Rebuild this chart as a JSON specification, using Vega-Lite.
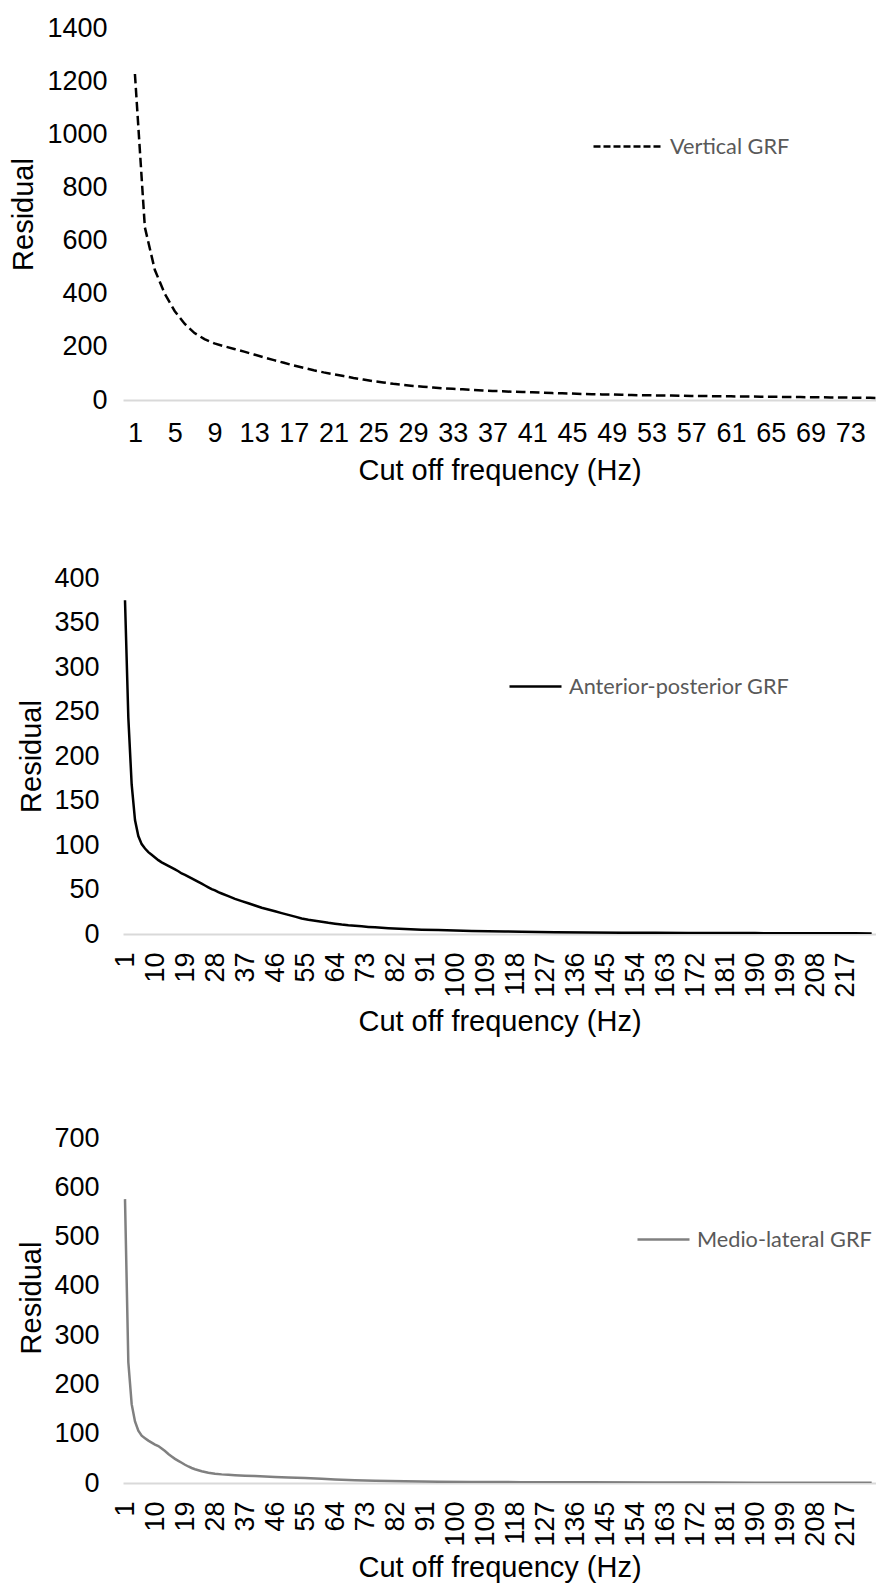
{
  "$schema": "https://vega.github.io/schema/vega-lite/v6.json",
  "background": "white",
  "padding": {"left": 9, "top": 14, "right": 0, "bottom": 0},
  "bounds": "flush",
  "spacing": 178,
  "config": {
    "font": "Liberation Sans",
    "view": {"stroke": null},
    "axis": {
      "labelFont": "Liberation Sans",
      "labelFontSize": 27,
      "labelColor": "#000000",
      "titleFont": "Liberation Sans",
      "titleFontSize": 29,
      "titleFontWeight": "normal",
      "titleColor": "#000000",
      "grid": false,
      "ticks": false,
      "labelOverlap": false,
      "labelFlush": false,
      "labelBound": false
    },
    "axisX": {"domainColor": "#d9d9d9", "domainWidth": 2},
    "axisY": {"domain": false, "format": "d"},
    "legend": {
      "orient": "none",
      "padding": 0,
      "title": null,
      "symbolType": "stroke",
      "labelFont": "Lato",
      "labelFontSize": 21.7,
      "labelColor": "#595959",
      "labelLimit": 0
    }
  },
  "resolve": {"scale": {"color": "independent"}, "legend": {"color": "independent"}},
  "datasets": {
    "vertical": [
      {"hz": 1, "residual": 1227}, {"hz": 2, "residual": 650}, {"hz": 3, "residual": 490}, {"hz": 4, "residual": 400},
      {"hz": 5, "residual": 335}, {"hz": 6, "residual": 287}, {"hz": 7, "residual": 252}, {"hz": 8, "residual": 229},
      {"hz": 9, "residual": 213}, {"hz": 10, "residual": 202}, {"hz": 11, "residual": 192}, {"hz": 12, "residual": 182},
      {"hz": 13, "residual": 171}, {"hz": 14, "residual": 160}, {"hz": 15, "residual": 150}, {"hz": 16, "residual": 140},
      {"hz": 17, "residual": 130}, {"hz": 18, "residual": 121}, {"hz": 19, "residual": 112}, {"hz": 20, "residual": 104},
      {"hz": 21, "residual": 97}, {"hz": 22, "residual": 90}, {"hz": 23, "residual": 83}, {"hz": 24, "residual": 77},
      {"hz": 25, "residual": 71}, {"hz": 26, "residual": 66}, {"hz": 27, "residual": 61}, {"hz": 28, "residual": 57},
      {"hz": 29, "residual": 53}, {"hz": 30, "residual": 50}, {"hz": 31, "residual": 47}, {"hz": 32, "residual": 44},
      {"hz": 33, "residual": 42}, {"hz": 34, "residual": 40}, {"hz": 35, "residual": 38}, {"hz": 36, "residual": 36},
      {"hz": 37, "residual": 34}, {"hz": 38, "residual": 33}, {"hz": 39, "residual": 31}, {"hz": 40, "residual": 30},
      {"hz": 41, "residual": 29}, {"hz": 42, "residual": 27.5}, {"hz": 43, "residual": 26}, {"hz": 44, "residual": 25},
      {"hz": 45, "residual": 24}, {"hz": 46, "residual": 23}, {"hz": 47, "residual": 22}, {"hz": 48, "residual": 21},
      {"hz": 49, "residual": 20.5}, {"hz": 50, "residual": 19.5}, {"hz": 51, "residual": 18.5}, {"hz": 52, "residual": 18},
      {"hz": 53, "residual": 17.5}, {"hz": 54, "residual": 17}, {"hz": 55, "residual": 16.5}, {"hz": 56, "residual": 16},
      {"hz": 57, "residual": 15.5}, {"hz": 58, "residual": 15}, {"hz": 59, "residual": 14.5}, {"hz": 60, "residual": 14},
      {"hz": 61, "residual": 13.8}, {"hz": 62, "residual": 13.4}, {"hz": 63, "residual": 13}, {"hz": 64, "residual": 12.6},
      {"hz": 65, "residual": 12.2}, {"hz": 66, "residual": 11.8}, {"hz": 67, "residual": 11.4}, {"hz": 68, "residual": 11},
      {"hz": 69, "residual": 10.6}, {"hz": 70, "residual": 10.2}, {"hz": 71, "residual": 9.8}, {"hz": 72, "residual": 9.4},
      {"hz": 73, "residual": 9}, {"hz": 74, "residual": 8.5}, {"hz": 75, "residual": 8}, {"hz": 76, "residual": 7.5}
    ],
    "anteriorPosterior": [
      {"hz": 1, "residual": 375}, {"hz": 2, "residual": 243}, {"hz": 3, "residual": 168}, {"hz": 4, "residual": 128},
      {"hz": 5, "residual": 110}, {"hz": 6, "residual": 101}, {"hz": 7, "residual": 96}, {"hz": 8, "residual": 92},
      {"hz": 9, "residual": 89}, {"hz": 10, "residual": 86}, {"hz": 11, "residual": 83}, {"hz": 12, "residual": 80.5},
      {"hz": 13, "residual": 78.5}, {"hz": 14, "residual": 76.5}, {"hz": 15, "residual": 74.5}, {"hz": 16, "residual": 72.5},
      {"hz": 17, "residual": 70.5}, {"hz": 18, "residual": 68}, {"hz": 19, "residual": 66.5}, {"hz": 20, "residual": 64.5},
      {"hz": 21, "residual": 62.5}, {"hz": 22, "residual": 60.5}, {"hz": 23, "residual": 58.5}, {"hz": 24, "residual": 56.5},
      {"hz": 25, "residual": 54.5}, {"hz": 26, "residual": 52.5}, {"hz": 27, "residual": 50.5}, {"hz": 28, "residual": 49},
      {"hz": 29, "residual": 47}, {"hz": 30, "residual": 45.5}, {"hz": 32, "residual": 42.5}, {"hz": 34, "residual": 39.5},
      {"hz": 36, "residual": 37}, {"hz": 38, "residual": 34.5}, {"hz": 40, "residual": 32}, {"hz": 42, "residual": 29.5},
      {"hz": 44, "residual": 27.5}, {"hz": 46, "residual": 25.5}, {"hz": 48, "residual": 23.5}, {"hz": 50, "residual": 21.5},
      {"hz": 52, "residual": 19.5}, {"hz": 54, "residual": 17.5}, {"hz": 56, "residual": 16}, {"hz": 58, "residual": 15},
      {"hz": 60, "residual": 13.8}, {"hz": 62, "residual": 12.6}, {"hz": 64, "residual": 11.6}, {"hz": 66, "residual": 10.6},
      {"hz": 68, "residual": 9.8}, {"hz": 70, "residual": 9.2}, {"hz": 72, "residual": 8.6}, {"hz": 74, "residual": 8},
      {"hz": 76, "residual": 7.5}, {"hz": 80, "residual": 6.5}, {"hz": 85, "residual": 5.6}, {"hz": 90, "residual": 4.9},
      {"hz": 95, "residual": 4.4}, {"hz": 100, "residual": 3.9}, {"hz": 105, "residual": 3.5}, {"hz": 110, "residual": 3.1},
      {"hz": 115, "residual": 2.8}, {"hz": 120, "residual": 2.5}, {"hz": 130, "residual": 2.1}, {"hz": 140, "residual": 1.8},
      {"hz": 150, "residual": 1.5}, {"hz": 160, "residual": 1.3}, {"hz": 170, "residual": 1.2}, {"hz": 180, "residual": 1.1},
      {"hz": 190, "residual": 1}, {"hz": 200, "residual": 0.9}, {"hz": 210, "residual": 0.8}, {"hz": 220, "residual": 0.75},
      {"hz": 225, "residual": 0.7}
    ],
    "medioLateral": [
      {"hz": 1, "residual": 576}, {"hz": 2, "residual": 245}, {"hz": 3, "residual": 160}, {"hz": 4, "residual": 125},
      {"hz": 5, "residual": 106}, {"hz": 6, "residual": 96}, {"hz": 7, "residual": 91}, {"hz": 8, "residual": 86},
      {"hz": 9, "residual": 82}, {"hz": 10, "residual": 78}, {"hz": 11, "residual": 75}, {"hz": 12, "residual": 70},
      {"hz": 13, "residual": 65}, {"hz": 14, "residual": 59}, {"hz": 15, "residual": 54}, {"hz": 16, "residual": 49},
      {"hz": 17, "residual": 45}, {"hz": 18, "residual": 41}, {"hz": 19, "residual": 37}, {"hz": 20, "residual": 33.5},
      {"hz": 21, "residual": 30.5}, {"hz": 22, "residual": 28}, {"hz": 23, "residual": 26}, {"hz": 24, "residual": 24},
      {"hz": 25, "residual": 22.5}, {"hz": 26, "residual": 21}, {"hz": 27, "residual": 20}, {"hz": 28, "residual": 19},
      {"hz": 30, "residual": 17.5}, {"hz": 32, "residual": 16.5}, {"hz": 34, "residual": 15.8}, {"hz": 37, "residual": 14.8},
      {"hz": 40, "residual": 14}, {"hz": 43, "residual": 13}, {"hz": 46, "residual": 12}, {"hz": 50, "residual": 11},
      {"hz": 55, "residual": 10}, {"hz": 60, "residual": 8.5}, {"hz": 64, "residual": 7.2}, {"hz": 70, "residual": 5.8},
      {"hz": 76, "residual": 4.5}, {"hz": 85, "residual": 3.4}, {"hz": 95, "residual": 2.6}, {"hz": 105, "residual": 2.1},
      {"hz": 120, "residual": 1.7}, {"hz": 140, "residual": 1.3}, {"hz": 160, "residual": 1.1}, {"hz": 175, "residual": 0.9},
      {"hz": 190, "residual": 0.7}, {"hz": 210, "residual": 0.6}, {"hz": 225, "residual": 0.5}
    ]
  },
  "vconcat": [
    {
      "width": 753,
      "height": 372,
      "data": {"name": "vertical"},
      "mark": {"type": "line", "strokeWidth": 2.5, "strokeDash": [9.5, 4.5], "clip": true},
      "encoding": {
        "x": {
          "field": "hz", "type": "quantitative",
          "scale": {"domain": [-0.2, 75.6], "nice": false, "zero": false},
          "axis": {
            "title": "Cut off frequency (Hz)",
            "values": [1, 5, 9, 13, 17, 21, 25, 29, 33, 37, 41, 45, 49, 53, 57, 61, 65, 69, 73],
            "labelAngle": 0, "labelPadding": 20, "titlePadding": 10
          }
        },
        "y": {
          "field": "residual", "type": "quantitative",
          "scale": {"domain": [0, 1400], "nice": false},
          "axis": {
            "title": "Residual",
            "values": [0, 200, 400, 600, 800, 1000, 1200, 1400],
            "labelPadding": 16, "titlePadding": 8
          }
        },
        "color": {
          "datum": "Vertical GRF",
          "scale": {"range": ["#000000"]},
          "legend": {
            "legendX": 469, "legendY": 83,
            "symbolSize": 4624, "symbolStrokeWidth": 2.5, "symbolDash": [7, 3],
            "labelOffset": 7
          }
        }
      }
    },
    {
      "width": 753,
      "height": 356,
      "data": {"name": "anteriorPosterior"},
      "mark": {"type": "line", "strokeWidth": 2.5, "clip": true},
      "encoding": {
        "x": {
          "field": "hz", "type": "quantitative",
          "scale": {"domain": [0.4, 226.3], "nice": false, "zero": false},
          "axis": {
            "title": "Cut off frequency (Hz)",
            "values": [1, 10, 19, 28, 37, 46, 55, 64, 73, 82, 91, 100, 109, 118, 127, 136, 145, 154, 163, 172, 181, 190, 199, 208, 217],
            "labelAngle": -90, "labelAlign": "right", "labelBaseline": "middle",
            "labelPadding": 18, "titlePadding": 10
          }
        },
        "y": {
          "field": "residual", "type": "quantitative",
          "scale": {"domain": [0, 400], "nice": false},
          "axis": {
            "title": "Residual",
            "values": [0, 50, 100, 150, 200, 250, 300, 350, 400],
            "labelPadding": 24, "titlePadding": 7
          }
        },
        "color": {
          "datum": "Anterior-posterior GRF",
          "scale": {"range": ["#000000"]},
          "legend": {
            "legendX": 385, "legendY": 81,
            "symbolSize": 2704, "symbolStrokeWidth": 2.5,
            "labelOffset": 6
          }
        }
      }
    },
    {
      "width": 753,
      "height": 371,
      "data": {"name": "medioLateral"},
      "mark": {"type": "line", "strokeWidth": 2.5, "clip": true},
      "encoding": {
        "x": {
          "field": "hz", "type": "quantitative",
          "scale": {"domain": [0.4, 226.3], "nice": false, "zero": false},
          "axis": {
            "title": "Cut off frequency (Hz)",
            "values": [1, 10, 19, 28, 37, 46, 55, 64, 73, 82, 91, 100, 109, 118, 127, 136, 145, 154, 163, 172, 181, 190, 199, 208, 217],
            "labelAngle": -90, "labelAlign": "right", "labelBaseline": "middle",
            "labelPadding": 18, "titlePadding": 7
          }
        },
        "y": {
          "field": "residual", "type": "quantitative",
          "scale": {"domain": [0, 752.8], "nice": false},
          "axis": {
            "title": "Residual",
            "values": [0, 100, 200, 300, 400, 500, 600, 700],
            "labelPadding": 24, "titlePadding": 7
          }
        },
        "color": {
          "datum": "Medio-lateral GRF",
          "scale": {"range": ["#808080"]},
          "legend": {
            "legendX": 513, "legendY": 100,
            "symbolSize": 2704, "symbolStrokeWidth": 2.5,
            "labelOffset": 6
          }
        }
      }
    }
  ]
}
